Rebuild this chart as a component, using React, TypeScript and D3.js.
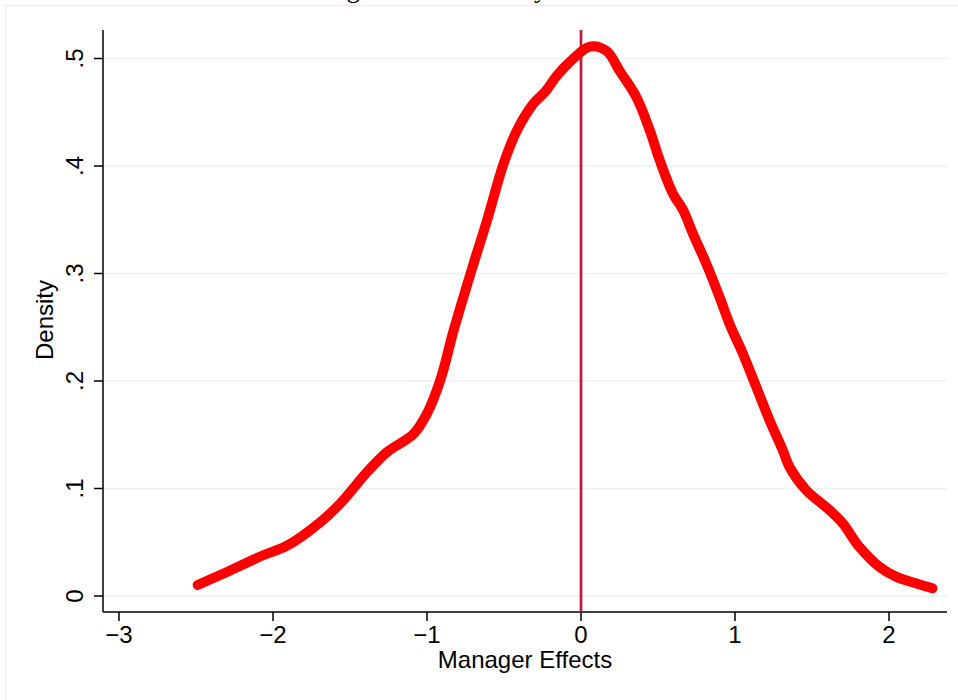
import React, { useEffect, useRef } from "react";
import * as d3 from "d3";

// Kernel density of manager effects
const managerEffect = [
  -2.489, -2.295, -2.079, -1.906, -1.69, -1.561, -1.388, -1.258, -1.086, -0.999,
  -0.913, -0.827, -0.698, -0.611, -0.503, -0.416, -0.309, -0.233, -0.157, -0.071,
  0.058, 0.166, 0.253, 0.36, 0.447, 0.512, 0.598, 0.663, 0.727, 0.814, 0.9, 0.965,
  1.051, 1.138, 1.224, 1.31, 1.354, 1.462, 1.613, 1.699, 1.807, 1.937, 2.045, 2.174,
  2.282,
];
const density = [
  0.0102, 0.0226, 0.037, 0.047, 0.069, 0.0864, 0.1155, 0.134, 0.151, 0.17, 0.201,
  0.247, 0.309, 0.349, 0.402, 0.433, 0.458, 0.469, 0.484, 0.497, 0.511, 0.507,
  0.488, 0.464, 0.433, 0.405, 0.374, 0.359, 0.337, 0.309, 0.278, 0.253, 0.2255,
  0.1945, 0.1636, 0.1357, 0.12, 0.0985, 0.08, 0.0676, 0.0458, 0.0272, 0.018,
  0.0118, 0.0072,
];

const xTicks = [-3, -2, -1, 0, 1, 2];
const xTickLabels = ["\u22123", "\u22122", "\u22121", "0", "1", "2"];
const yTicks = [0, 0.1, 0.2, 0.3, 0.4, 0.5];
const yTickLabels = ["0", ".1", ".2", ".3", ".4", ".5"];
const refLine = 0;

const App: React.FC = () => {
  const chartRef = useRef<HTMLDivElement>(null);

  useEffect(() => {
    const width = 958;
    const height = 700;
    const plot = { left: 103, right: 947, top: 30, bottom: 612 };
    const font = "'Liberation Sans', Arial, sans-serif";

    const svg = d3
      .select(chartRef.current)
      .append("svg")
      .attr("width", width)
      .attr("height", height)
      .style("position", "absolute")
      .style("left", "0px")
      .style("top", "0px")
      .style("background", "#fff");

    // outer frame
    svg
      .append("rect")
      .attr("x", 5.5)
      .attr("y", 5.5)
      .attr("width", 1000)
      .attr("height", 800)
      .attr("fill", "none")
      .attr("stroke", "#e6eef0")
      .attr("stroke-width", 1.5);

    // title sits above the visible area in the reference, only descenders show
    svg
      .append("text")
      .attr("x", 177)
      .attr("y", -2)
      .attr("font-family", "'Liberation Serif', 'Times New Roman', serif")
      .attr("font-size", 26)
      .attr("fill", "#000")
      .text("Estimated Manager Effects Density");

    const xScale = d3.scaleLinear().domain([-3, 2]).range([119, 889]);
    const yScale = d3.scaleLinear().domain([0, 0.5]).range([596, 58.5]);

    // gridlines
    svg
      .append("g")
      .selectAll("line")
      .data(yTicks)
      .join("line")
      .attr("x1", plot.left)
      .attr("x2", plot.right)
      .attr("y1", (d) => yScale(d))
      .attr("y2", (d) => yScale(d))
      .attr("stroke", "#eaf2f3")
      .attr("stroke-width", 1.5);

    // y axis
    svg
      .append("line")
      .attr("x1", plot.left)
      .attr("x2", plot.left)
      .attr("y1", plot.top)
      .attr("y2", plot.bottom)
      .attr("stroke", "#000")
      .attr("stroke-width", 1.5);

    const yAxis = svg.append("g");
    yAxis
      .selectAll("line")
      .data(yTicks)
      .join("line")
      .attr("x1", plot.left - 9)
      .attr("x2", plot.left)
      .attr("y1", (d) => yScale(d))
      .attr("y2", (d) => yScale(d))
      .attr("stroke", "#000")
      .attr("stroke-width", 1.5);
    yAxis
      .selectAll("text")
      .data(yTicks)
      .join("text")
      .attr("transform", (d) => `translate(82.5,${yScale(d)}) rotate(-90)`)
      .attr("text-anchor", "middle")
      .attr("font-family", font)
      .attr("font-size", 24)
      .text((d, i) => yTickLabels[i]);

    svg
      .append("text")
      .attr("transform", `translate(52.5,320) rotate(-90)`)
      .attr("text-anchor", "middle")
      .attr("font-family", font)
      .attr("font-size", 24)
      .text("Density");

    // x axis
    svg
      .append("line")
      .attr("x1", plot.left)
      .attr("x2", plot.right)
      .attr("y1", plot.bottom)
      .attr("y2", plot.bottom)
      .attr("stroke", "#000")
      .attr("stroke-width", 1.5);

    const xAxis = svg.append("g");
    xAxis
      .selectAll("line")
      .data(xTicks)
      .join("line")
      .attr("x1", (d) => xScale(d))
      .attr("x2", (d) => xScale(d))
      .attr("y1", plot.bottom)
      .attr("y2", plot.bottom + 9)
      .attr("stroke", "#000")
      .attr("stroke-width", 1.5);
    xAxis
      .selectAll("text")
      .data(xTicks)
      .join("text")
      .attr("x", (d) => xScale(d))
      .attr("y", 643)
      .attr("text-anchor", "middle")
      .attr("font-family", font)
      .attr("font-size", 24)
      .text((d, i) => xTickLabels[i]);

    svg
      .append("text")
      .attr("x", (plot.left + plot.right) / 2)
      .attr("y", 668)
      .attr("text-anchor", "middle")
      .attr("font-family", font)
      .attr("font-size", 24)
      .text("Manager Effects");

    // vertical reference line at zero
    svg
      .append("line")
      .attr("x1", xScale(refLine))
      .attr("x2", xScale(refLine))
      .attr("y1", plot.top)
      .attr("y2", plot.bottom)
      .attr("stroke", "#c41540")
      .attr("stroke-width", 2.7);

    // density curve
    const points = managerEffect.map((x, i) => [x, density[i]] as [number, number]);
    const lineGenerator = d3
      .line<[number, number]>()
      .x((d) => xScale(d[0]))
      .y((d) => yScale(d[1]))
      .curve(d3.curveCatmullRom);

    svg
      .append("path")
      .datum(points)
      .attr("fill", "none")
      .attr("stroke", "#ff0000")
      .attr("stroke-width", 10)
      .attr("stroke-linecap", "round")
      .attr("stroke-linejoin", "round")
      .attr("d", lineGenerator);

    return () => {
      d3.select(chartRef.current).select("svg").remove();
    };
  }, []);

  return <div ref={chartRef}></div>;
};

export default App;
